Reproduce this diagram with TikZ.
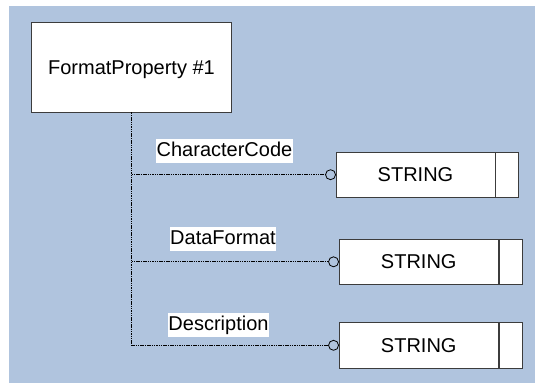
\documentclass[tikz,border=0pt]{standalone}
\usepackage{fontspec}
\setmainfont{Liberation Sans}
\usetikzlibrary{calc}
\definecolor{bgblue}{RGB}{176,196,222}
\definecolor{edgegray}{RGB}{60,60,60}
\begin{document}
\begin{tikzpicture}[x=1pt,y=-1pt,
  every node/.style={font=\fontsize{20}{24}\selectfont},
  entbox/.style={draw=edgegray,line width=0.9pt,fill=white,inner sep=0pt,text height=14.3pt,text depth=0pt},
  keybox/.style={draw=edgegray,line width=0.9pt,fill=white,inner sep=0pt,anchor=west},
  tagbox/.style={fill=white,inner xsep=0.5pt,inner ysep=1.5pt,text height=16pt,text depth=5pt,anchor=base},
  conn/.style={line width=0.7pt,dash pattern=on 1.5pt off 0.8pt},
  ring/.style={circle,draw=black,line width=0.8pt,inner sep=0pt,minimum size=10pt,outer sep=0pt,anchor=east}
]
\useasboundingbox (0,0) rectangle (535,383);
\fill[bgblue] (9,6) rectangle (535,383);
\node[entbox,minimum width=199.5pt,minimum height=90pt] (fp) at (131.5,67) {FormatProperty \#1};
\node[entbox,minimum width=159pt,minimum height=44.7pt] (s1) at (415.5,174.7) {STRING};
\node[keybox,minimum width=23pt,minimum height=44.7pt] (k1) at (s1.east) {};
\node[entbox,minimum width=159.5pt,minimum height=45pt] (s2) at (418.75,261.8) {STRING};
\node[keybox,minimum width=23pt,minimum height=45pt] (k2) at (s2.east) {};
\node[entbox,minimum width=159.5pt,minimum height=45.3pt] (s3) at (418.75,345.3) {STRING};
\node[keybox,minimum width=23pt,minimum height=45.3pt] (k3) at (s3.east) {};
\node[ring] (c1) at (s1.west) {};
\node[ring] (c2) at (s2.west) {};
\node[ring] (c3) at (s3.west) {};
\draw[conn] (fp.south) -- (fp.south |- c3.west) -- (c3.west);
\draw[conn] (fp.south |- c1.west) -- (c1.west);
\draw[conn] (fp.south |- c2.west) -- (c2.west);
\node[tagbox] (l1) at (224.5,156.7) {CharacterCode};
\node[tagbox] (l2) at (223,244.2) {DataFormat};
\node[tagbox] (l3) at (218.5,330.8) {Description};
\end{tikzpicture}
\end{document}
